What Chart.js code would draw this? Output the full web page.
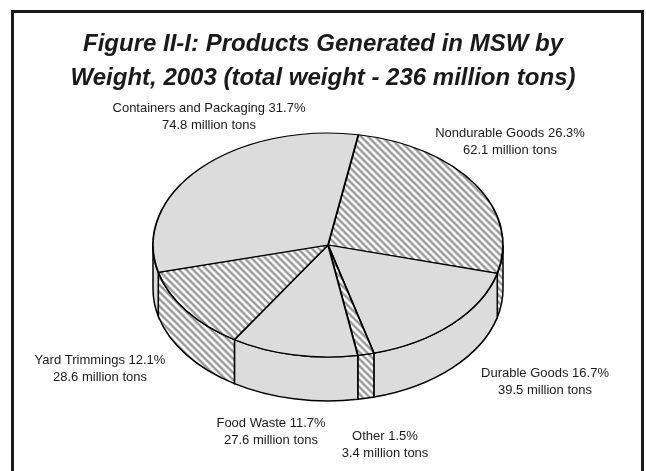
<!DOCTYPE html>
<html>
<head>
<meta charset="utf-8">
<script src="https://cdn.jsdelivr.net/npm/chart.js@4.4.1/dist/chart.umd.min.js"></script>
<style>
  html, body { margin: 0; padding: 0; background: #fff; }
  #wrap { width: 646px; height: 471px; }
</style>
</head>
<body>
<div id="wrap"><canvas id="mswPie" width="646" height="471"></canvas></div>
<script>
// MSW products 2003, slices listed clockwise starting just right of 12 o'clock
const categories = ['Nondurable Goods', 'Durable Goods', 'Other', 'Food Waste', 'Yard Trimmings', 'Containers and Packaging'];
const percents = [26.3, 16.7, 1.5, 11.7, 12.1, 31.7];
const tons = [62.1, 39.5, 3.4, 27.6, 28.6, 74.8];
const titleLines = ['Figure II-I: Products Generated in MSW by', 'Weight, 2003 (total weight - 236 million tons)'];

// layout / style (kept apart from the data)
const labelAnchors = [[510, 142], [545, 382], [385, 445], [271, 432], [100, 369], [209, 117]];
const hatched = [true, false, true, false, true, false];
const PIE = { cx: 328, cy: 245, tilt: 0.64, depth: 44 };
const SOLID = '#dcdcdc';

// diagonal "\" hatch, stretched back so it survives the vertical squash
function makeHatch() {
  const s = 7;
  const c = document.createElement('canvas');
  c.width = s; c.height = s;
  const g = c.getContext('2d');
  g.fillStyle = '#ffffff';
  g.fillRect(0, 0, s, s);
  g.strokeStyle = '#999999';
  g.lineWidth = 2.4;
  g.beginPath();
  g.moveTo(-1, -1); g.lineTo(s + 1, s + 1);
  g.moveTo(-1, s - 1); g.lineTo(1, s + 1);
  g.moveTo(s - 1, -1); g.lineTo(s + 1, 1);
  g.stroke();
  const p = g.createPattern(c, 'repeat');
  p.setTransform(new DOMMatrix().scale(1, 1 / PIE.tilt));
  return p;
}
const hatch = makeHatch();

// squash the round pie into an ellipse centred on PIE.cx / PIE.cy
function applyTilt(ctx, arc) {
  ctx.translate(PIE.cx, PIE.cy);
  ctx.scale(1, PIE.tilt);
  ctx.translate(-arc.x, -arc.y);
}

const pie3d = {
  id: 'pie3d',
  beforeDraw(chart) {
    const ctx = chart.ctx;
    ctx.save();
    ctx.fillStyle = '#ffffff';
    ctx.fillRect(0, 0, chart.width, chart.height);
    ctx.strokeStyle = '#1a1a1a';
    ctx.lineWidth = 3;
    ctx.strokeRect(12.5, 11.5, 630, 480);
    ctx.restore();
  },
  beforeDatasetsDraw(chart) {
    const ctx = chart.ctx;
    const arcs = chart.getDatasetMeta(0).data;
    const d = PIE.depth / PIE.tilt;
    // side walls: only the front half (0..PI in canvas angles) shows
    arcs.forEach(arc => {
      const { x, y, startAngle, endAngle, outerRadius } = arc;
      for (let k = -1; k <= 2; k++) {
        const a = Math.max(startAngle, 2 * Math.PI * k);
        const b = Math.min(endAngle, 2 * Math.PI * k + Math.PI);
        if (b <= a) continue;
        ctx.save();
        applyTilt(ctx, arc);
        ctx.beginPath();
        ctx.arc(x, y, outerRadius, a, b);
        ctx.arc(x, y + d, outerRadius, b, a, true);
        ctx.closePath();
        ctx.fillStyle = arc.options.backgroundColor;
        ctx.fill();
        ctx.restore();
        ctx.save();
        ctx.lineWidth = 1.5;
        ctx.strokeStyle = '#000';
        ctx.stroke();
        ctx.restore();
      }
    });
    ctx.save();
    applyTilt(ctx, arcs[0]);
  },
  afterDatasetsDraw(chart) {
    chart.ctx.restore();
  },
  afterDraw(chart) {
    const ctx = chart.ctx;
    ctx.save();
    ctx.fillStyle = '#1a1a1a';
    ctx.font = '13px "Liberation Sans", Arial, sans-serif';
    ctx.textAlign = 'center';
    ctx.textBaseline = 'middle';
    categories.forEach((name, i) => {
      const [lx, ly] = labelAnchors[i];
      ctx.fillText(`${name} ${percents[i].toFixed(1)}%`, lx, ly - 9);
      ctx.fillText(`${tons[i].toFixed(1)} million tons`, lx, ly + 8);
    });
    ctx.restore();
  }
};

const ctx = document.getElementById('mswPie').getContext('2d');
new Chart(ctx, {
  type: 'pie',
  data: {
    labels: categories,
    datasets: [{
      data: percents,
      backgroundColor: hatched.map(h => h ? hatch : SOLID),
      borderColor: '#000000',
      borderWidth: 1.8,
      clip: false
    }]
  },
  options: {
    responsive: false,
    animation: false,
    rotation: 10,
    radius: 175,
    layout: { padding: 0 },
    events: [],
    plugins: {
      legend: { display: false },
      tooltip: { enabled: false },
      title: {
        display: true,
        text: titleLines,
        color: '#1a1a1a',
        font: { family: '"Liberation Sans", Arial, sans-serif', size: 24, style: 'italic', weight: 'bold', lineHeight: 1.4 },
        padding: { top: 28, bottom: 10 }
      }
    }
  },
  plugins: [pie3d]
});
</script>
</body>
</html>
